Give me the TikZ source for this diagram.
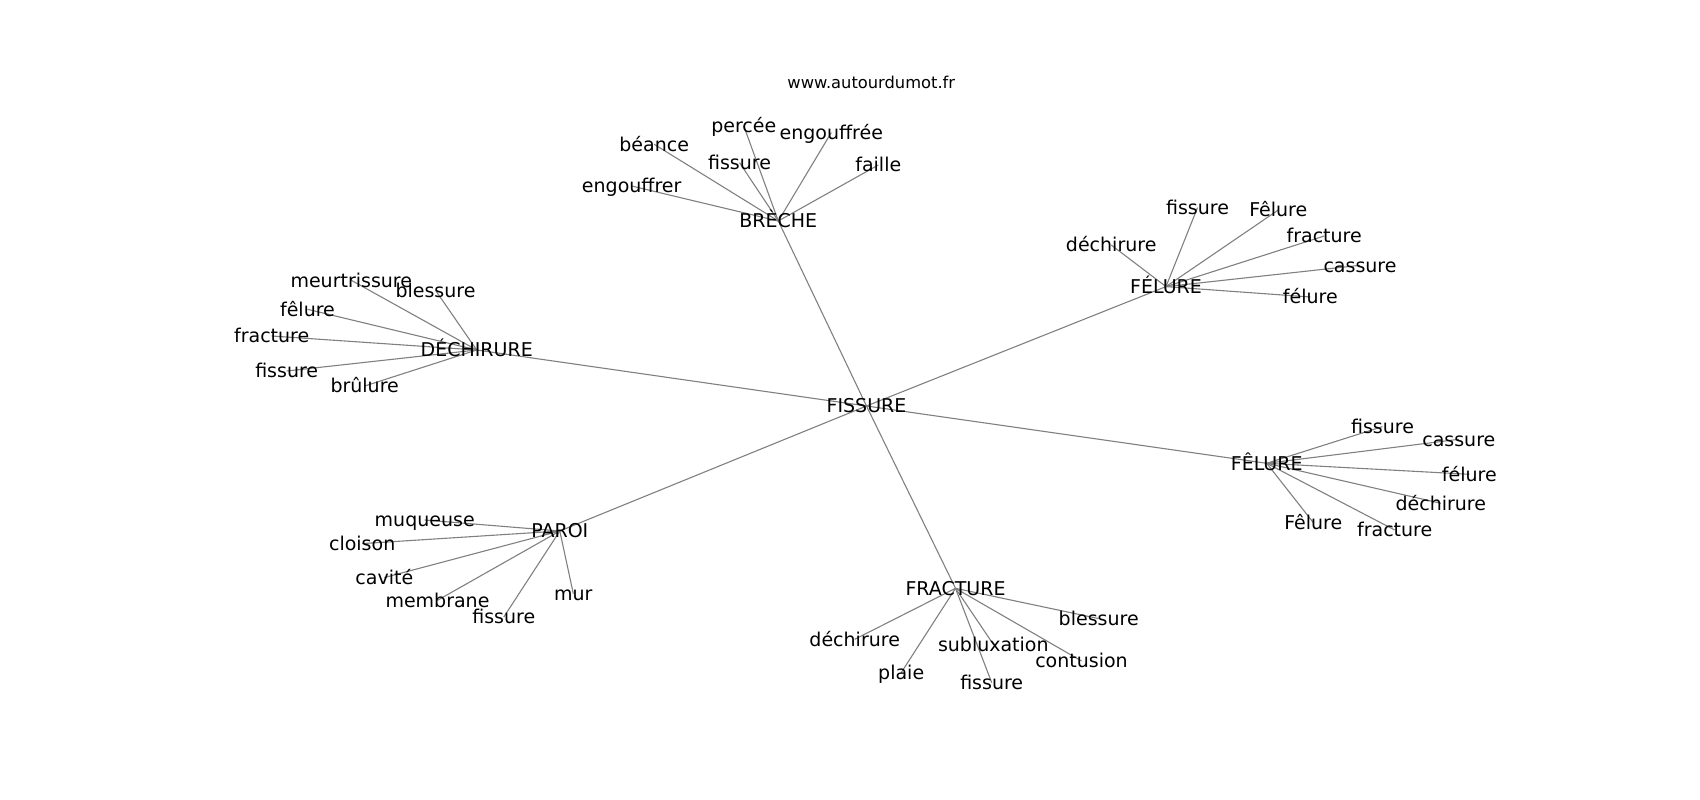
\documentclass[tikz,border=0pt]{standalone}
\usepackage{fontspec}
\setmainfont{DejaVu Sans}
\usetikzlibrary{backgrounds}
\tikzset{
  lbl/.style={font=\fontsize{19}{22}\selectfont, inner sep=0pt, text height=17.2pt, text depth=3.8pt, anchor=center},
  ttl/.style={font=\fontsize{16.3}{19}\selectfont, inner sep=0pt, text height=16.4pt, text depth=3.3pt, anchor=center},
  edge/.style={draw=black!50, line width=1.1pt}
}
\begin{document}
\begin{tikzpicture}[x=1pt,y=-1pt]
\useasboundingbox (0,0) rectangle (1700,800);
\node[ttl] (title) at (871.3,81.8) {www.autourdumot.fr};
% hubs
\node[lbl] (fis) at (866.5,406) {FISSURE};
\node[lbl] (bre) at (778.3,221) {BRÈCHE};
\node[lbl] (dec) at (476.7,350) {DÉCHIRURE};
\node[lbl] (fel) at (1166,286.6) {FÉLURE};
\node[lbl] (fcl) at (1266.7,463.3) {FÊLURE};
\node[lbl] (par) at (559.8,531) {PAROI};
\node[lbl] (fra) at (955.5,588.3) {FRACTURE};
% BRÈCHE
\node[lbl] (b1) at (743.8,126) {percée};
\node[lbl] (b2) at (831.3,132.6) {engouffrée};
\node[lbl] (b3) at (654.2,144.3) {béance};
\node[lbl] (b4) at (739.5,162.6) {fissure};
\node[lbl] (b5) at (878.3,165) {faille};
\node[lbl] (b6) at (631.7,186) {engouffrer};
% DÉCHIRURE
\node[lbl] (d1) at (351.3,280.3) {meurtrissure};
\node[lbl] (d2) at (435.5,290.3) {blessure};
\node[lbl] (d3) at (307.5,309.3) {fêlure};
\node[lbl] (d4) at (271.7,336) {fracture};
\node[lbl] (d5) at (286.7,371) {fissure};
\node[lbl] (d6) at (364.7,386) {brûlure};
% FÉLURE
\node[lbl] (e1) at (1197.5,207.6) {fissure};
\node[lbl] (e2) at (1278.3,210) {Fêlure};
\node[lbl] (e3) at (1324.2,236) {fracture};
\node[lbl] (e4) at (1111.2,245) {déchirure};
\node[lbl] (e5) at (1360,265.3) {cassure};
\node[lbl] (e6) at (1310.3,297) {félure};
% FÊLURE
\node[lbl] (c1) at (1382.5,426.6) {fissure};
\node[lbl] (c2) at (1458.8,439.3) {cassure};
\node[lbl] (c3) at (1469.3,474.3) {félure};
\node[lbl] (c4) at (1440.8,503.3) {déchirure};
\node[lbl] (c5) at (1313.3,522.6) {Fêlure};
\node[lbl] (c6) at (1394.7,530) {fracture};
% PAROI
\node[lbl] (p1) at (424.7,520) {muqueuse};
\node[lbl] (p2) at (362.2,543.6) {cloison};
\node[lbl] (p3) at (384.3,577.6) {cavité};
\node[lbl] (p4) at (437.5,600.3) {membrane};
\node[lbl] (p5) at (503.8,617) {fissure};
\node[lbl] (p6) at (573.3,593.6) {mur};
% FRACTURE
\node[lbl] (f1) at (1098.7,618.6) {blessure};
\node[lbl] (f2) at (854.7,639.3) {déchirure};
\node[lbl] (f3) at (993.3,644.3) {subluxation};
\node[lbl] (f4) at (1081.5,661) {contusion};
\node[lbl] (f5) at (901.2,672.6) {plaie};
\node[lbl] (f6) at (991.7,682.6) {fissure};
\begin{pgfonlayer}{background}
\foreach \h in {bre,dec,fel,fcl,par,fra} \draw[edge] (fis.center) -- (\h.center);
\foreach \n in {b1,b2,b3,b4,b5,b6} \draw[edge] (bre.center) -- (\n.center);
\foreach \n in {d1,d2,d3,d4,d5,d6} \draw[edge] (dec.center) -- (\n.center);
\foreach \n in {e1,e2,e3,e4,e5,e6} \draw[edge] (fel.center) -- (\n.center);
\foreach \n in {c1,c2,c3,c4,c5,c6} \draw[edge] (fcl.center) -- (\n.center);
\foreach \n in {p1,p2,p3,p4,p5,p6} \draw[edge] (par.center) -- (\n.center);
\foreach \n in {f1,f2,f3,f4,f5,f6} \draw[edge] (fra.center) -- (\n.center);
\end{pgfonlayer}
\end{tikzpicture}
\end{document}
